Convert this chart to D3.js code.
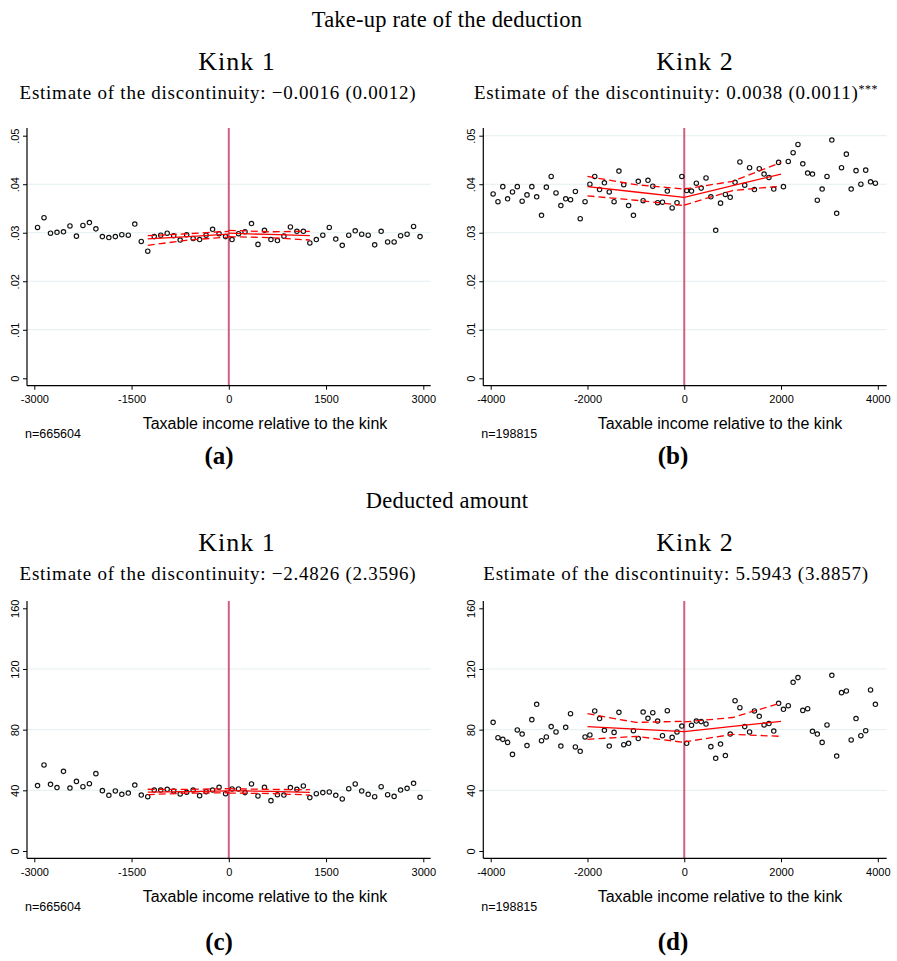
<!DOCTYPE html>
<html><head><meta charset="utf-8">
<script src="https://cdn.jsdelivr.net/npm/d3@7"></script>
<style>body{margin:0;background:#fff} svg{display:block}</style>
</head><body>
<svg id="chart" width="897" height="961"></svg>
<script>
// ---------------- data ----------------
const binsKink1 = [-2950,-2850,-2750,-2650,-2550,-2450,-2350,-2250,-2150,-2050,-1950,-1850,-1750,-1650,-1550,-1450,-1350,-1250,-1150,-1050,-950,-850,-750,-650,-550,-450,-350,-250,-150,-50,
  50,150,250,350,450,550,650,750,850,950,1050,1150,1250,1350,1450,1550,1650,1750,1850,1950,2050,2150,2250,2350,2450,2550,2650,2750,2850,2950];
const binsKink2 = [-3950,-3850,-3750,-3650,-3550,-3450,-3350,-3250,-3150,-3050,-2950,-2850,-2750,-2650,-2550,-2450,-2350,-2250,-2150,-2050,-1950,-1850,-1750,-1650,-1550,-1450,-1350,-1250,-1150,-1050,-950,-850,-750,-650,-550,-450,-350,-250,-150,-50,
  50,150,250,350,450,550,650,750,850,950,1050,1150,1250,1350,1450,1550,1650,1750,1850,1950,2050,2150,2250,2350,2450,2550,2650,2750,2850,2950,3050,3150,3250,3350,3450,3550,3650,3750,3850,3950];

const takeup1 = [0.0311,0.0331,0.0299,0.0301,0.0302,0.0314,0.0293,0.0315,0.0321,0.0308,0.0292,0.0290,0.0292,0.0296,0.0295,0.0318,0.0282,0.0262,0.0292,0.0295,0.0299,0.0294,0.0285,0.0296,0.0288,0.0286,0.0295,0.0307,0.0298,0.0292,
  0.0286,0.0298,0.0302,0.0319,0.0276,0.0305,0.0286,0.0284,0.0293,0.0312,0.0303,0.0303,0.0279,0.0286,0.0295,0.0311,0.0287,0.0274,0.0295,0.0304,0.0297,0.0295,0.0275,0.0303,0.0281,0.0281,0.0294,0.0297,0.0313,0.0292];
const takeup2 = [0.0380,0.0364,0.0395,0.0370,0.0384,0.0395,0.0365,0.0378,0.0395,0.0374,0.0336,0.0394,0.0416,0.0382,0.0356,0.0370,0.0368,0.0385,0.0329,0.0364,0.0400,0.0416,0.0389,0.0403,0.0384,0.0364,0.0427,0.0399,0.0356,0.0336,0.0406,0.0366,0.0408,0.0396,0.0362,0.0363,0.0386,0.0351,0.0362,0.0416,
  0.0387,0.0386,0.0402,0.0392,0.0413,0.0374,0.0305,0.0361,0.0379,0.0373,0.0404,0.0446,0.0398,0.0434,0.0389,0.0432,0.0421,0.0414,0.0390,0.0445,0.0395,0.0447,0.0465,0.0482,0.0442,0.0423,0.0421,0.0367,0.0390,0.0416,0.0491,0.0340,0.0434,0.0462,0.0390,0.0428,0.0400,0.0429,0.0405,0.0402];
const amount1 = [43.1,56.7,44.0,41.8,52.5,41.5,45.9,42.4,44.4,51.0,39.8,36.7,39.6,37.4,38.2,43.5,36.9,35.8,40.2,40.2,40.7,39.6,37.6,38.7,40.2,36.5,39.1,40.2,42.0,37.8,
  40.9,40.9,38.5,44.2,36.3,42.0,33.2,37.1,36.9,41.8,40.7,42.9,35.2,37.8,38.5,38.9,36.7,34.3,41.1,44.2,39.6,37.4,35.8,42.4,37.1,36.0,40.2,41.3,44.6,35.4];
const amount2 = [84.8,74.7,73.6,71.6,63.7,79.8,77.1,69.5,86.6,96.7,72.7,75.2,82.0,78.5,69.2,81.5,90.5,68.6,65.7,75.2,76.5,92.3,87.3,79.6,69.2,78.2,91.4,70.1,71.0,79.3,74.1,91.6,87.5,91.2,85.7,76.0,92.5,74.9,78.5,82.4,
  71.0,82.9,85.7,85.3,83.7,68.8,61.1,70.5,62.9,77.1,99.1,94.5,82.0,78.5,92.3,88.8,83.1,84.0,79.1,97.4,93.4,95.8,111.2,114.3,92.7,93.8,78.9,77.1,71.6,83.1,115.8,62.6,104.4,105.5,73.2,87.3,76.0,79.3,106.2,96.7];

// local linear fits (left / right of kink): x positions, estimate, lower & upper CI
const fitX1L = [-1250,-625,0],  fitX1R = [0,625,1250];
const fitX2L = [-2000,-1000,0], fitX2R = [0,1000,2000];
const fitA_L = {est:[0.02875,0.0292,0.0297], lo:[0.0274,0.0285,0.0291], hi:[0.0294,0.0298,0.0303]};
const fitA_R = {est:[0.0299,0.02965,0.0294], lo:[0.0292,0.0290,0.0285], hi:[0.0305,0.0302,0.0303]};
const fitB_L = {est:[0.0395,0.0384,0.0373], lo:[0.0376,0.0367,0.0356], hi:[0.0416,0.0399,0.0390]};
const fitB_R = {est:[0.0373,0.0397,0.0421], lo:[0.0357,0.0387,0.0396], hi:[0.0390,0.0406,0.0445]};
const fitC_L = {est:[38.8,39.2,39.6], lo:[37.2,38.1,38.4], hi:[40.7,40.6,41.1]};
const fitC_R = {est:[39.8,39.3,38.7], lo:[38.2,37.9,36.9], hi:[41.1,40.6,40.4]};
const fitD_L = {est:[82.0,80.4,78.7], lo:[73.6,75.6,71.6], hi:[90.5,84.8,85.5]};
const fitD_R = {est:[78.7,82.1,85.5], lo:[71.9,76.9,75.6], hi:[85.1,88.0,97.6]};

// ticks
const xTicks1 = [-3000,-1500,0,1500,3000];
const xTicks2 = [-4000,-2000,0,2000,4000];
const yTicksRate = [0,0.01,0.02,0.03,0.04,0.05];
const yLabelsRate = ["0",".01",".02",".03",".04",".05"];
const yTicksAmt = [0,40,80,120,160];
const yLabelsAmt = ["0","40","80","120","160"];

// texts
const sectionTitles = ["Take-up rate of the deduction","Deducted amount"];
const kinkTitles = ["Kink 1","Kink 2"];
const estimates = [["−0.0016 (0.0012)",""],["0.0038 (0.0011)","***"],["−2.4826 (2.3596)",""],["5.5943 (3.8857)",""]];
const nObs = ["n=665604","n=198815","n=665604","n=198815"];
const panelLetters = ["(a)","(b)","(c)","(d)"];
const xTitle = "Taxable income relative to the kink";

// ---------------- drawing ----------------
const svg = d3.select("#chart");
const SERIF = "'Liberation Serif','Times New Roman',serif";
const SANS = "'Liberation Sans',Arial,sans-serif";

function drawPanel(p) {
  const g = svg.append("g");
  const x = d3.scaleLinear().domain(p.xDomain).range(p.xRange);
  const y = d3.scaleLinear().domain(p.yDomain).range(p.yRange);

  // grid
  g.selectAll("line.grid").data(p.grid).join("line").attr("class","grid")
    .attr("x1", p.left).attr("x2", p.right)
    .attr("y1", d => y(d)).attr("y2", d => y(d))
    .attr("stroke", "#e4eef0").attr("stroke-width", 1);

  // vertical line at the kink
  g.append("line").attr("x1", x(0)).attr("x2", x(0)).attr("y1", p.top).attr("y2", p.bottom)
    .attr("stroke", "#d0607f").attr("stroke-width", 2);

  // scatter
  g.selectAll("circle").data(p.xs.map((v,i)=>[v,p.ys[i]])).join("circle")
    .attr("cx", d => x(d[0])).attr("cy", d => y(d[1])).attr("r", 2.2)
    .attr("fill", "none").attr("stroke", "#111").attr("stroke-width", 1.15);

  // fits
  const line = d3.line().x(d => x(d[0])).y(d => y(d[1]));
  [[p.fitXL, p.fitL], [p.fitXR, p.fitR]].forEach(([fx, f]) => {
    g.append("path").attr("d", line(fx.map((v,i)=>[v,f.est[i]])))
      .attr("fill","none").attr("stroke","#ff0000").attr("stroke-width",1.3);
    ["lo","hi"].forEach(k => {
      g.append("path").attr("d", line(fx.map((v,i)=>[v,f[k][i]])))
        .attr("fill","none").attr("stroke","#ff0000").attr("stroke-width",1.3)
        .attr("stroke-dasharray","7,4");
    });
  });

  // y axis
  const ya = g.append("g").attr("transform", `translate(${p.left},0)`)
    .call(d3.axisLeft(y).tickValues(p.yTicks).tickFormat((d,i)=>p.yLabels[i]).tickSize(4).tickSizeOuter(0));
  ya.select(".domain").remove();
  ya.append("line").attr("x1",0).attr("x2",0).attr("y1",p.top).attr("y2",p.bottom).attr("stroke","#000").attr("stroke-width",1.2);
  ya.selectAll(".tick line").attr("stroke","#000");
  ya.selectAll(".tick text")
    .attr("transform","rotate(-90)").attr("x",0).attr("y",-8).attr("dy","0")
    .attr("text-anchor","middle").attr("fill","#000")
    .style("font-family", SANS).style("font-size","11px");

  // x axis
  const xa = g.append("g").attr("transform", `translate(0,${p.bottom})`)
    .call(d3.axisBottom(x).tickValues(p.xTicks).tickFormat(d => String(d)).tickSize(4).tickSizeOuter(0));
  xa.select(".domain").remove();
  xa.append("line").attr("x1",p.left).attr("x2",p.right).attr("y1",0).attr("y2",0).attr("stroke","#000").attr("stroke-width",1.2);
  xa.selectAll(".tick line").attr("stroke","#000");
  xa.selectAll(".tick text").attr("fill","#000").attr("y", 10)
    .style("font-family", SANS).style("font-size","11px");

  // axis title & n
  g.append("text").attr("x", p.xTitleX).attr("y", p.bottom + 38).attr("dy","0.35em")
    .attr("text-anchor","middle").style("font-family",SANS).style("font-size","16px").text(xTitle);
  g.append("text").attr("x", p.left - 2).attr("y", p.bottom + 48).attr("dy","0.35em")
    .style("font-family",SANS).style("font-size","12.5px").text(p.n);

  // kink title, estimate, panel letter
  g.append("text").attr("x", p.kinkX).attr("y", p.kinkY).attr("dy","0.35em")
    .attr("text-anchor","middle").style("font-family",SERIF).style("font-size","26px")
    .style("letter-spacing","1px").text(p.kink);
  const est = g.append("text").attr("x", p.estX).attr("y", p.estY).attr("dy","0.35em")
    .attr("text-anchor","middle").style("font-family",SERIF).style("font-size","19px")
    .style("letter-spacing","0.75px");
  est.append("tspan").text("Estimate of the discontinuity:  " + p.est[0]);
  if (p.est[1]) est.append("tspan").attr("dy","-0.45em").style("font-size","12px").style("letter-spacing","0.5px").text(p.est[1]);
  g.append("text").attr("x", p.letterX).attr("y", p.letterY).attr("dy","0.35em")
    .attr("text-anchor","middle").style("font-family",SERIF).style("font-weight","bold").style("font-size","25px").text(p.letter);
}

// section titles
svg.append("text").attr("x",447).attr("y",19).attr("dy","0.35em").attr("text-anchor","middle")
  .style("font-family",SERIF).style("font-size","22.5px").style("letter-spacing","0.2px").text(sectionTitles[0]);
svg.append("text").attr("x",447).attr("y",500).attr("dy","0.35em").attr("text-anchor","middle")
  .style("font-family",SERIF).style("font-size","22.5px").style("letter-spacing","0.2px").text(sectionTitles[1]);

const leftGeom  = {left:27, right:430.7, xDomain:[-3000,3000], xRange:[34.3,423.3], xTicks:xTicks1, xs:binsKink1, fitXL:fitX1L, fitXR:fitX1R, xTitleX:265, kinkX:237, estX:218, letterX:219};
const rightGeom = {left:483.3, right:886.7, xDomain:[-4000,4000], xRange:[490.7,877.8], xTicks:xTicks2, xs:binsKink2, fitXL:fitX2L, fitXR:fitX2R, xTitleX:720, kinkX:695, estX:676, letterX:673};
const topGeom = {top:128, bottom:385.7, yDomain:[0,0.05], yRange:[378.3,135.7], yTicks:yTicksRate, yLabels:yLabelsRate, kinkY:61, estY:92, letterY:455};
const botGeom = {top:601, bottom:858.3, yDomain:[0,160], yRange:[851,608.3], yTicks:yTicksAmt, yLabels:yLabelsAmt, kinkY:542, estY:573, letterY:941};

drawPanel({...leftGeom, ...topGeom, ys:takeup1, fitL:fitA_L, fitR:fitA_R, grid:[0.01,0.02,0.03,0.04], kink:kinkTitles[0], est:estimates[0], n:nObs[0], letter:panelLetters[0]});
drawPanel({...rightGeom, ...topGeom, ys:takeup2, fitL:fitB_L, fitR:fitB_R, grid:[0.01,0.02,0.03,0.04,0.05], kink:kinkTitles[1], est:estimates[1], n:nObs[1], letter:panelLetters[1]});
drawPanel({...leftGeom, ...botGeom, ys:amount1, fitL:fitC_L, fitR:fitC_R, grid:[40,80,120], kink:kinkTitles[0], est:estimates[2], n:nObs[2], letter:panelLetters[2]});
drawPanel({...rightGeom, ...botGeom, ys:amount2, fitL:fitD_L, fitR:fitD_R, grid:[40,80,120], kink:kinkTitles[1], est:estimates[3], n:nObs[3], letter:panelLetters[3]});
</script>
</body></html>
